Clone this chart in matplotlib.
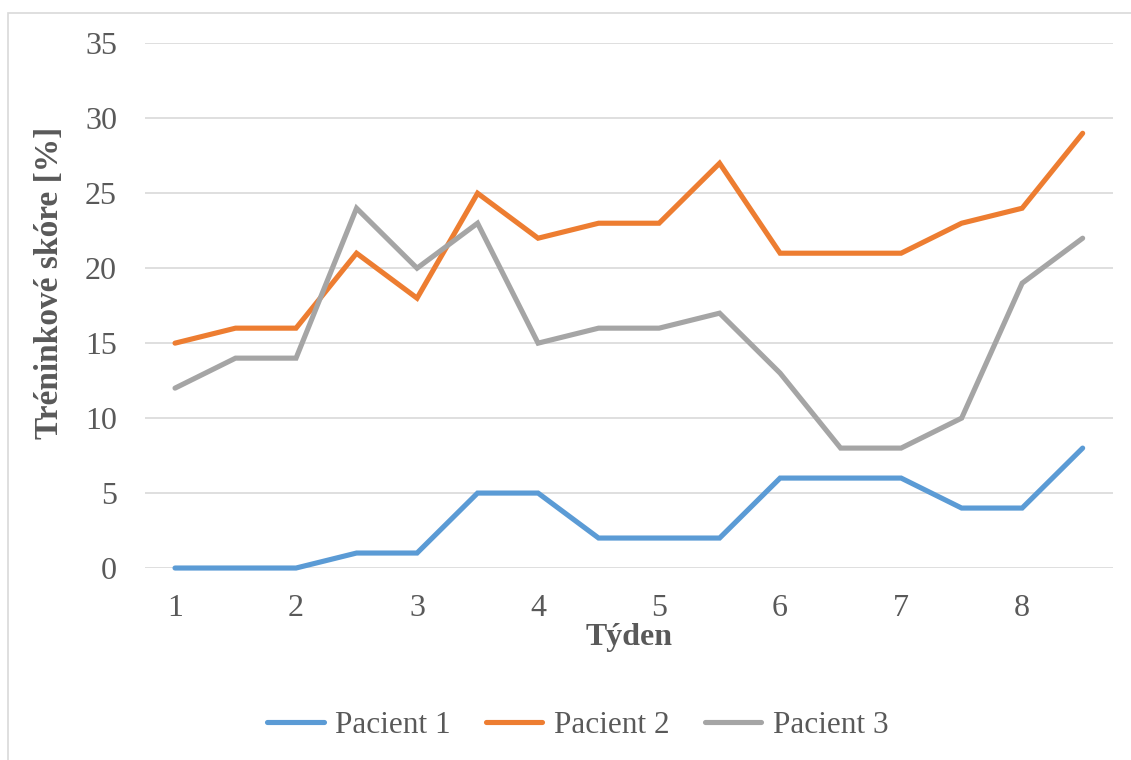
import matplotlib.pyplot as plt
from matplotlib.patches import Rectangle

weeks = [1, 1.5, 2, 2.5, 3, 3.5, 4, 4.5, 5, 5.5, 6, 6.5, 7, 7.5, 8, 8.5]
pacient1 = [0, 0, 0, 1, 1, 5, 5, 2, 2, 2, 6, 6, 6, 4, 4, 8]
pacient2 = [15, 16, 16, 21, 18, 25, 22, 23, 23, 27, 21, 21, 21, 23, 24, 29]
pacient3 = [12, 14, 14, 24, 20, 23, 15, 16, 16, 17, 13, 8, 8, 10, 19, 22]
labels = ['Pacient 1', 'Pacient 2', 'Pacient 3']
colors = ['#5B9BD5', '#ED7D31', '#A5A5A5']

plt.rcParams['font.family'] = ['Liberation Serif', 'DejaVu Serif']
text_color = '#595959'

fig = plt.figure(figsize=(11.31, 7.6), dpi=100)
ax = fig.add_axes([0.128, 0.2526, 0.856, 0.6904])

for ys, lab, col in zip([pacient1, pacient2, pacient3], labels, colors):
    ax.plot(weeks, ys, color=col, lw=3.7, label=lab, solid_capstyle='round',
            solid_joinstyle='miter', clip_on=False)

ax.set_xlim(0.75, 8.75)
ax.set_ylim(0, 35)
ax.set_yticks(range(0, 36, 5))
ax.set_xticks(range(1, 9))
ax.grid(axis='y', color='#D9D9D9', lw=1.2)
ax.set_axisbelow(True)
for s in ax.spines.values():
    s.set_visible(False)
ax.tick_params(length=0, labelsize=23, colors=text_color)
ax.tick_params(axis='x', pad=19)
ax.tick_params(axis='y', pad=20)

ax.set_xlabel('Týden', fontsize=23, fontweight='bold', color=text_color, labelpad=0)
ax.set_ylabel('Tréninkové skóre [%]', fontsize=24, fontweight='bold',
              color=text_color, va='center')
ax.yaxis.set_label_coords((50 - 145) / 968, (568 - 283) / 525)

fig.legend(loc='center', bbox_to_anchor=(0.511, 0.046), ncol=3, frameon=False,
           fontsize=22.5, labelcolor=text_color, handlelength=1.8,
           columnspacing=1.12, handletextpad=0.38)

fig.patches.append(Rectangle((8 / 1131, -0.1), 1.2, 1 - 12.5 / 760 + 0.1,
                             transform=fig.transFigure, fill=False,
                             edgecolor='#D9D9D9', lw=1.2))

fig.savefig('out.png', dpi=100, facecolor='white')
